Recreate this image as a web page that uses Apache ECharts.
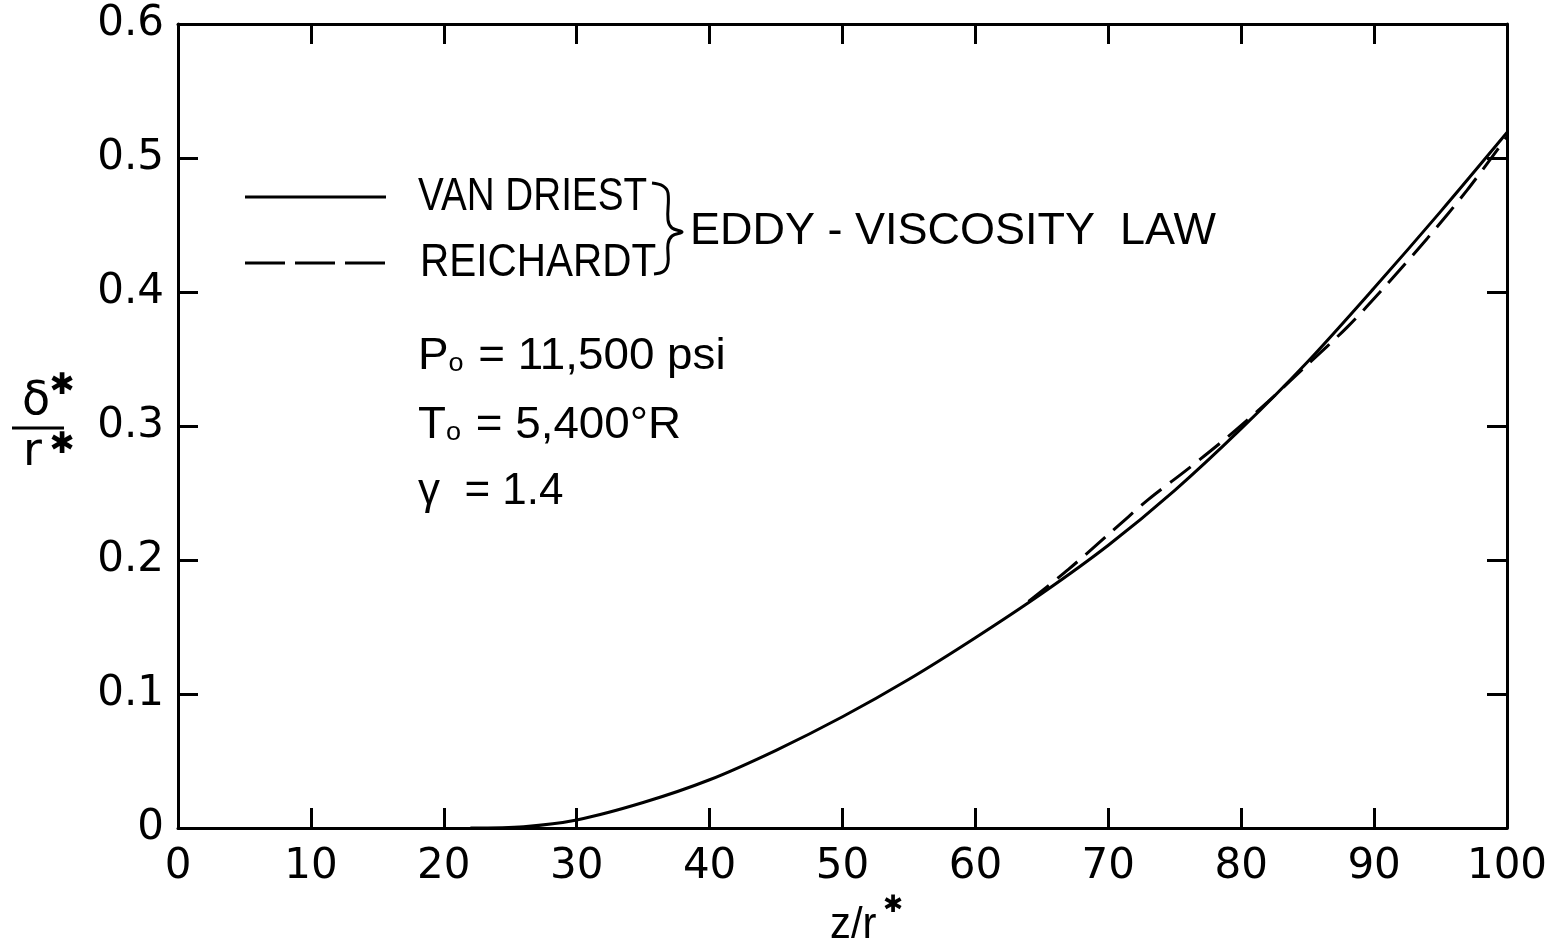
<!DOCTYPE html>
<html><head><meta charset="utf-8">
<script src="https://cdn.jsdelivr.net/npm/echarts@6.0.0/dist/echarts.min.js"></script>
<style>html,body{margin:0;padding:0;background:#fff}#c{width:1559px;height:947px}</style>
</head><body><div id="c"></div>
<script>
// Van Driest eddy-viscosity law (solid)
const vanDriestX = [22, 26, 30, 35, 40, 45, 50, 55, 60, 65, 70, 75, 80, 85, 90, 95, 100];
const vanDriestY = [0, 0.001, 0.006, 0.019, 0.036, 0.058, 0.083, 0.111, 0.142, 0.175, 0.211, 0.252, 0.298, 0.348, 0.403, 0.460, 0.519];
// Reichardt eddy-viscosity law (dashed)
const reichardtX = [64, 67, 70, 73, 76, 79, 82, 85, 88, 91, 94, 97, 100];
const reichardtY = [0.169, 0.193, 0.219, 0.245, 0.268, 0.292, 0.318, 0.346, 0.374, 0.406, 0.440, 0.476, 0.516];
// Axis ticks
const xTicks = [0, 10, 20, 30, 40, 50, 60, 70, 80, 90, 100];
const yTicks = [0, 0.1, 0.2, 0.3, 0.4, 0.5, 0.6];
const yTickLabels = ['0', '0.1', '0.2', '0.3', '0.4', '0.5', '0.6'];
// Texts
const seriesNames = ['VAN DRIEST', 'REICHARDT'];
const groupLabel = 'EDDY - VISCOSITY  LAW';
const xTitle = 'z/r';

const chart = echarts.init(document.getElementById('c'), null, {renderer: 'canvas'});
const black = '#000';
const tickFont = 'DejaVu Sans';

function yLabel(v) {
  const i = yTicks.findIndex(t => Math.abs(t - v) < 1e-6);
  return i >= 0 ? yTickLabels[i] : '';
}

const axisCommon = {
  axisLine: {show: true, onZero: false, lineStyle: {color: black, width: 3}},
  axisTick: {show: true, inside: true, length: 20, lineStyle: {color: black, width: 3}},
  splitLine: {show: false}
};

function txt(x, y, text, size, opts) {
  opts = opts || {};
  return {
    type: 'text', x: x, y: y, scaleX: opts.scaleX || 1, scaleY: opts.scaleY || 1,
    z: 10,
    style: {
      text: text, fill: black,
      font: (opts.weight || 'normal') + ' ' + size + 'px ' + (opts.family || '"Liberation Sans"'),
      textAlign: opts.align || 'left', align: opts.align || 'left',
      textVerticalAlign: 'middle', verticalAlign: 'middle',
      rich: opts.rich
    }
  };
}

const richBase = {
  a: {fontSize: 44, fontFamily: 'Liberation Sans', color: black},
  s: {fontSize: 26, fontFamily: 'Liberation Sans', color: black, padding: [14, 2, 0, 0]}
};

const option = {
  backgroundColor: '#fff',
  animation: false,
  grid: {left: 178, right: 52, top: 24, bottom: 119},
  xAxis: [
    Object.assign({
      type: 'value', min: 0, max: 100, interval: 10, position: 'bottom',
      axisLabel: {show: true, margin: 18, fontSize: 42, fontFamily: tickFont, color: black,
        formatter: v => xTicks.includes(v) ? String(v) : ''}
    }, axisCommon),
    Object.assign({
      type: 'value', min: 0, max: 100, interval: 10, position: 'top',
      axisLabel: {show: false}
    }, axisCommon)
  ],
  yAxis: [
    Object.assign({
      type: 'value', min: 0, max: 0.6, interval: 0.1, position: 'left',
      axisLabel: {show: true, margin: 14, fontSize: 42, fontFamily: tickFont, color: black,
        formatter: v => yLabel(v)}
    }, axisCommon),
    Object.assign({
      type: 'value', min: 0, max: 0.6, interval: 0.1, position: 'right',
      axisLabel: {show: false}
    }, axisCommon)
  ],
  series: [
    {
      name: seriesNames[0], type: 'line', xAxisIndex: 0, yAxisIndex: 0,
      data: vanDriestX.map((x, i) => [x, vanDriestY[i]]),
      smooth: 0.3, symbol: 'none',
      lineStyle: {color: black, width: 3, type: 'solid'}
    },
    {
      name: seriesNames[1], type: 'line', xAxisIndex: 0, yAxisIndex: 0,
      data: reichardtX.map((x, i) => [x, reichardtY[i]]),
      smooth: 0.3, symbol: 'none',
      lineStyle: {color: black, width: 3, type: [26, 11]}
    }
  ],
  graphic: [
    // legend samples
    {type: 'line', shape: {x1: 245, y1: 197, x2: 386, y2: 197}, style: {stroke: black, lineWidth: 3}},
    {type: 'line', shape: {x1: 245, y1: 263, x2: 386, y2: 263}, style: {stroke: black, lineWidth: 3, lineDash: [40, 10]}},
    txt(418, 197, seriesNames[0], 46, {scaleX: 0.84}),
    txt(420, 263, seriesNames[1], 46, {scaleX: 0.88}),
    // brace
    {type: 'polyline', shape: {points: [[652, 183], [663, 186], [668, 193], [668, 220], [672, 228], [682, 232], [672, 236], [668, 244], [668, 263], [664, 271], [654, 274]], smooth: 0.4},
      style: {stroke: black, lineWidth: 3, fill: null}},
    txt(690, 232, groupLabel, 45),
    // conditions
    txt(418, 357, '{a|P}{s|o}{a| = 11,500 psi}', 44, {rich: richBase, scaleX: 1.04}),
    txt(418, 426, '{a|T}{s|o}{a| = 5,400°R}', 44, {rich: richBase, scaleX: 1.04}),
    txt(418, 492, 'γ  = 1.4', 44),
    // y-axis fraction label
    txt(22, 402, 'δ', 46, {family: '"DejaVu Sans"'}),
    txt(62, 386, '✱', 30, {family: '"DejaVu Sans"', align: 'center'}),
    {type: 'line', shape: {x1: 12, y1: 428, x2: 64, y2: 428}, style: {stroke: black, lineWidth: 3}},
    txt(23, 453, 'r', 46, {family: '"DejaVu Sans"'}),
    txt(62, 445, '✱', 30, {family: '"DejaVu Sans"', align: 'center'}),
    // x-axis title
    txt(830, 926, xTitle, 44, {scaleX: 0.95}),
    txt(893, 906, '✱', 24, {family: '"DejaVu Sans"', align: 'center'})
  ]
};
chart.setOption(option);
</script>
</body></html>
